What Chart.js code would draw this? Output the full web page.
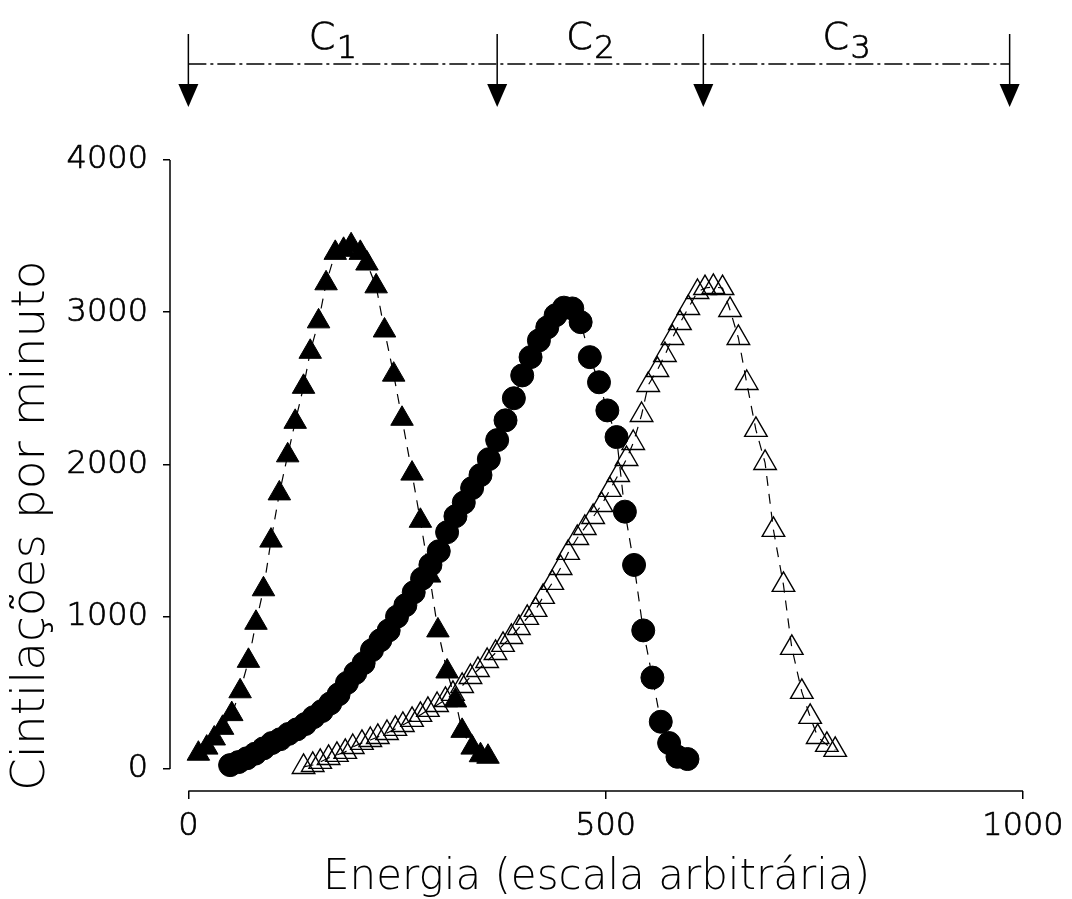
<!DOCTYPE html>
<html>
<head>
<meta charset="utf-8">
<title>Cintilações por minuto</title>
<script src="https://cdn.jsdelivr.net/npm/chart.js@4.4.1/dist/chart.umd.min.js"></script>
<style>
  html, body { margin: 0; padding: 0; background: #fff; }
  #wrap { width: 1072px; height: 899px; position: relative; }
</style>
</head>
<body>
<div id="wrap"><canvas id="spectrum"></canvas></div>
<script>
// Filled triangles
const energyA = [12, 22, 31, 41, 52, 62, 72, 81, 90, 99, 109, 119, 128, 138, 146, 156, 165, 176, 186, 195,
                 206, 214, 225, 235, 246, 256, 268, 278, 289, 299, 310, 320, 328, 340, 350, 359];
const countsA = [100, 140, 200, 270, 360, 510, 710, 960, 1180, 1500, 1810, 2060, 2280, 2510, 2740, 2940, 3190, 3390, 3410, 3440,
                 3390, 3320, 3170, 2880, 2590, 2300, 1940, 1630, 1270, 910, 640, 450, 250, 140, 90, 80];

// Filled circles
const energyB = [50, 60, 70, 80, 90, 100, 110, 120, 130, 140, 150, 160, 170, 180, 190, 200, 210, 220, 230, 240,
                 250, 260, 270, 280, 290, 300, 310, 320, 330, 340, 350, 360, 370, 380, 390, 400, 410, 420, 430, 440,
                 450, 460, 470, 481, 492, 502, 513, 523, 534, 545, 556, 566, 576, 586, 598];
const countsB = [25, 45, 70, 100, 135, 170, 195, 230, 260, 295, 340, 380, 430, 490, 565, 630, 695, 780, 845, 910,
                 1000, 1075, 1160, 1250, 1340, 1430, 1555, 1660, 1750, 1845, 1930, 2035, 2160, 2290, 2435, 2585, 2705, 2815, 2900, 2980,
                 3030, 3025, 2935, 2705, 2540, 2355, 2180, 1690, 1340, 910, 600, 310, 170, 80, 65];

// Open triangles
const energyC = [138, 149, 158, 168, 178, 188, 197, 208, 218, 227, 238, 248, 257, 268, 278, 287, 298, 308, 317, 328,
                 338, 347, 358, 368, 377, 387, 396, 406, 416, 425, 436, 446, 455, 466, 475, 485, 495, 505, 515, 525,
                 533, 543, 551, 562, 571, 580, 589, 599, 610, 619, 629, 640, 649, 659, 669, 680, 691, 701, 713, 723,
                 735, 745, 754, 765, 775];
const countsC = [13, 26, 46, 72, 92, 112, 144, 171, 190, 210, 236, 263, 289, 322, 355, 388, 420, 453, 493, 545,
                 604, 650, 709, 762, 815, 867, 926, 992, 1045, 1130, 1222, 1320, 1419, 1517, 1583, 1655, 1734, 1833, 1931, 2036,
                 2141, 2325, 2522, 2621, 2719, 2831, 2929, 3028, 3133, 3159, 3166, 3159, 3015, 2831, 2535, 2227, 2010, 1570, 1209, 795,
                 506, 342, 210, 158, 125];

const xTicks = [0, 500, 1000];
const yTicks = [0, 1000, 2000, 3000, 4000];

// Channel windows C1..C3 marked above the plot
const channelBounds = [0, 370, 617, 984];
const channelNames = ['1', '2', '3'];

const FONT = "'DejaVu Sans', sans-serif";
const WEIGHT = 200;

function points(xs, ys) {
    return xs.map((x, i) => ({ x: x, y: ys[i] }));
}

// Axis lines only over the labelled range, plus the channel arrows on top
const framePlugin = {
    id: 'frame',
    afterDraw(chart) {
        const { ctx, chartArea } = chart;
        const x = chart.scales.x;
        const y = chart.scales.y;
        ctx.save();
        ctx.strokeStyle = '#000';
        ctx.fillStyle = '#000';
        ctx.lineWidth = 1.5;

        ctx.beginPath();
        ctx.moveTo(chartArea.left, y.getPixelForValue(yTicks[0]));
        ctx.lineTo(chartArea.left, y.getPixelForValue(yTicks[yTicks.length - 1]));
        ctx.moveTo(x.getPixelForValue(xTicks[0]), chartArea.bottom);
        ctx.lineTo(x.getPixelForValue(xTicks[xTicks.length - 1]), chartArea.bottom);
        ctx.stroke();

        const px = channelBounds.map(v => x.getPixelForValue(v));

        // dash-dot line joining the arrows
        ctx.setLineDash([18, 4, 3, 4]);
        ctx.beginPath();
        ctx.moveTo(px[0], 64);
        ctx.lineTo(px[px.length - 1], 64);
        ctx.stroke();
        ctx.setLineDash([]);

        px.forEach(p => {
            ctx.beginPath();
            ctx.moveTo(p, 34);
            ctx.lineTo(p, 86);
            ctx.stroke();
            ctx.beginPath();
            ctx.moveTo(p - 10, 84);
            ctx.lineTo(p + 10, 84);
            ctx.lineTo(p, 107);
            ctx.closePath();
            ctx.fill();
        });

        ctx.textAlign = 'left';
        ctx.textBaseline = 'alphabetic';
        ctx.lineWidth = 0.7;
        channelNames.forEach((name, i) => {
            const mid = (px[i] + px[i + 1]) / 2;
            const start = mid - 34;
            ctx.font = WEIGHT + ' 38px ' + FONT;
            ctx.fillText('C', start, 49);
            ctx.strokeText('C', start, 49);
            ctx.font = WEIGHT + ' 32px ' + FONT;
            ctx.fillText(name, start + 28, 58);
            ctx.strokeText(name, start + 28, 58);
        });
        ctx.restore();
    }
};

const ctx = document.getElementById('spectrum').getContext('2d');
new Chart(ctx, {
    type: 'scatter',
    data: {
        datasets: [
            {
                label: 'triângulos vazios',
                data: points(energyC, countsC),
                showLine: true,
                borderColor: '#000',
                borderWidth: 1.2,
                borderDash: [10, 8],
                pointStyle: 'triangle',
                pointRadius: 13,
                pointBackgroundColor: 'rgba(255,255,255,0)',
                pointBorderColor: '#000',
                pointBorderWidth: 1.4,
                order: 0
            },
            {
                label: 'círculos',
                data: points(energyB, countsB),
                showLine: true,
                borderColor: '#000',
                borderWidth: 1.2,
                borderDash: [10, 8],
                pointStyle: 'circle',
                pointRadius: 11.5,
                pointBackgroundColor: '#000',
                pointBorderColor: '#000',
                pointBorderWidth: 1,
                order: 1
            },
            {
                label: 'triângulos cheios',
                data: points(energyA, countsA),
                showLine: true,
                borderColor: '#000',
                borderWidth: 1.2,
                borderDash: [10, 8],
                pointStyle: 'triangle',
                pointRadius: 13,
                pointBackgroundColor: '#000',
                pointBorderColor: '#000',
                pointBorderWidth: 1,
                order: 2
            }
        ]
    },
    options: {
        responsive: true,
        maintainAspectRatio: false,
        animation: false,
        layout: {
            padding: { top: 160, right: 49, left: 0, bottom: 0 }
        },
        plugins: {
            legend: { display: false },
            tooltip: { enabled: false }
        },
        scales: {
            x: {
                type: 'linear',
                min: -22,
                max: 1000,
                afterBuildTicks: s => { s.ticks = xTicks.map(v => ({ value: v })); },
                afterFit: s => { s.height = 108; },
                border: { display: false },
                grid: { drawOnChartArea: false, drawTicks: true, tickLength: 8, color: '#000', lineWidth: 1.5 },
                ticks: {
                    color: '#000',
                    font: { family: FONT, size: 32, weight: WEIGHT },
                    textStrokeColor: '#000',
                    textStrokeWidth: 0.7,
                    padding: 8,
                    maxRotation: 0,
                    autoSkip: false,
                    callback: v => String(v)
                },
                title: {
                    display: true,
                    text: 'Energia (escala arbitrária)',
                    color: '#000',
                    font: { family: FONT, size: 42, weight: WEIGHT, lineHeight: 1 },
                    padding: { top: 0, bottom: 0 }
                }
            },
            y: {
                type: 'linear',
                min: -145,
                max: 4000,
                afterBuildTicks: s => { s.ticks = yTicks.map(v => ({ value: v })); },
                afterFit: s => { s.width = 170; },
                border: { display: false },
                grid: { drawOnChartArea: false, drawTicks: true, tickLength: 7, color: '#000', lineWidth: 1.5 },
                ticks: {
                    color: '#000',
                    font: { family: FONT, size: 32, weight: WEIGHT },
                    textStrokeColor: '#000',
                    textStrokeWidth: 0.7,
                    padding: 15,
                    autoSkip: false,
                    callback: v => String(v)
                },
                title: {
                    display: true,
                    text: 'Cintilações por minuto',
                    align: 'start',
                    color: '#000',
                    font: { family: FONT, size: 47, weight: WEIGHT, lineHeight: 1 },
                    padding: { top: 8, bottom: 0 }
                }
            }
        }
    },
    plugins: [framePlugin]
});
</script>
</body>
</html>
